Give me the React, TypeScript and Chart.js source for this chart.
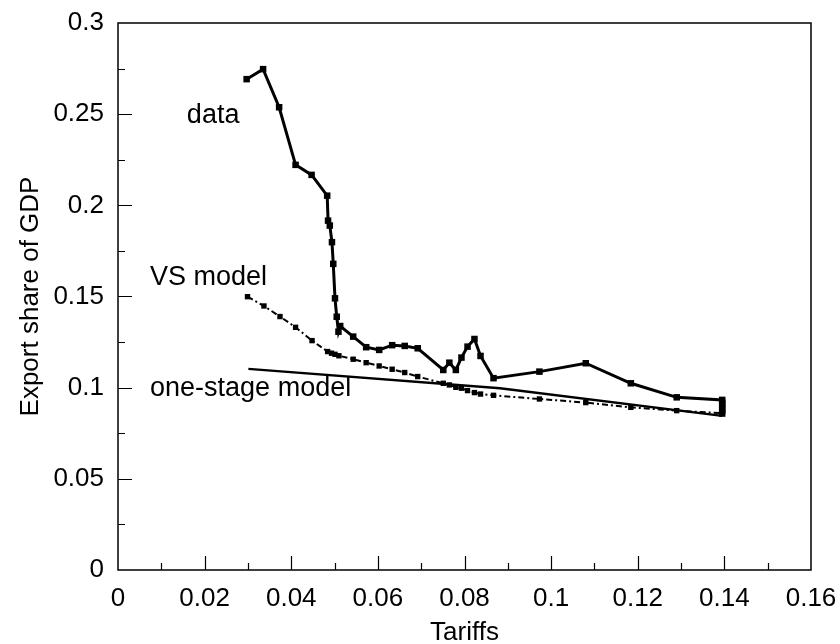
import React, { useEffect, useRef } from "react";
import { Chart, registerables } from "chart.js";

Chart.register(...registerables);

// ---- data ----
const dataX = [0.0297, 0.0335, 0.0372, 0.041, 0.0447, 0.0483, 0.0485, 0.0489, 0.0494, 0.0497, 0.0501, 0.0505, 0.0509, 0.0513, 0.0543, 0.0573, 0.0603, 0.0633, 0.0662, 0.0692, 0.0751, 0.0765, 0.078, 0.0793, 0.0807, 0.0823, 0.0837, 0.0867, 0.0973, 0.108, 0.1184, 0.129, 0.1395, 0.1395, 0.1395, 0.1395, 0.1395, 0.1395];
const dataY = [0.2692, 0.2747, 0.2538, 0.2222, 0.2167, 0.2053, 0.1916, 0.1889, 0.1798, 0.1679, 0.149, 0.1389, 0.1307, 0.1338, 0.128, 0.1222, 0.1207, 0.1233, 0.1229, 0.1216, 0.1097, 0.1137, 0.1097, 0.1165, 0.1225, 0.1267, 0.1174, 0.1052, 0.1088, 0.1134, 0.1024, 0.0947, 0.0933, 0.0918, 0.0903, 0.0888, 0.0873, 0.0858];

const vsX = [0.0299, 0.0337, 0.0374, 0.041, 0.0448, 0.0484, 0.0493, 0.0501, 0.051, 0.0543, 0.0573, 0.0603, 0.0633, 0.0662, 0.0692, 0.0751, 0.0765, 0.078, 0.0793, 0.0807, 0.0823, 0.0837, 0.0867, 0.0973, 0.108, 0.1184, 0.129, 0.1395];
const vsY = [0.1499, 0.1448, 0.139, 0.1331, 0.1258, 0.1198, 0.1189, 0.1183, 0.1175, 0.1156, 0.1137, 0.1119, 0.1101, 0.1083, 0.1061, 0.1024, 0.1015, 0.1002, 0.0997, 0.0984, 0.0973, 0.0965, 0.0958, 0.0938, 0.0918, 0.0892, 0.0874, 0.086];

const oneStageX = [0.0301, 0.0882, 0.1395];
const oneStageY = [0.1103, 0.0997, 0.0845];

const seriesNames = ["data", "VS model", "one-stage model"];
const labelAnchorX = [0.0159, 0.0074, 0.0074];
const labelAnchorY = [0.245, 0.1563, 0.0954];

const xTicks = [0, 0.02, 0.04, 0.06, 0.08, 0.1, 0.12, 0.14, 0.16];
const xTickLabels = ["0", "0.02", "0.04", "0.06", "0.08", "0.1", "0.12", "0.14", "0.16"];
const yTicks = [0, 0.05, 0.1, 0.15, 0.2, 0.25, 0.3];
const yTickLabels = ["0", "0.05", "0.1", "0.15", "0.2", "0.25", "0.3"];
const xMarkStep = 0.01;
const yMarkStep = 0.025;

const FONT = '"Liberation Sans", Arial, Helvetica, sans-serif';

const frameTicksPlugin = {
  id: "frameTicks",
  afterDraw(chart: any) {
    const { ctx, chartArea, scales } = chart;
    const { left, right, top, bottom } = chartArea;
    const xs = scales.x;
    const ys = scales.y;
    ctx.save();
    ctx.strokeStyle = "#000";
    ctx.lineWidth = 1.5;
    ctx.strokeRect(left, top, right - left, bottom - top);
    ctx.lineWidth = 1.2;
    ctx.beginPath();
    const nx = Math.round((xs.max - xs.min) / xMarkStep);
    for (let i = 1; i < nx; i++) {
      const px = Math.round(xs.getPixelForValue(xs.min + i * xMarkStep)) + 0.5;
      const len = i % 2 === 0 ? 14 : 7;
      ctx.moveTo(px, bottom);
      ctx.lineTo(px, bottom - len);
    }
    const ny = Math.round((ys.max - ys.min) / yMarkStep);
    for (let i = 1; i < ny; i++) {
      const py = Math.round(ys.getPixelForValue(ys.min + i * yMarkStep)) + 0.5;
      const len = i % 2 === 0 ? 14 : 7;
      ctx.moveTo(left, py);
      ctx.lineTo(left + len, py);
    }
    ctx.stroke();

    ctx.fillStyle = "#000";
    ctx.font = `27px ${FONT}`;
    ctx.textAlign = "left";
    ctx.textBaseline = "alphabetic";
    seriesNames.forEach((name, i) => {
      ctx.fillText(name, xs.getPixelForValue(labelAnchorX[i]), ys.getPixelForValue(labelAnchorY[i]));
    });
    ctx.restore();
  },
};

export default function App() {
  const canvasRef = useRef<HTMLCanvasElement | null>(null);

  useEffect(() => {
    document.body.style.margin = "0";
    const canvas = canvasRef.current;
    if (!canvas) return;
    const chart = new Chart(canvas, {
      type: "scatter",
      data: {
        datasets: [
          {
            label: seriesNames[0],
            data: dataX.map((x, i) => ({ x, y: dataY[i] })),
            showLine: true,
            borderColor: "#000",
            backgroundColor: "#000",
            borderWidth: 3,
            pointStyle: "rect",
            pointRadius: 4.6,
            pointBorderWidth: 0,
          },
          {
            label: seriesNames[1],
            data: vsX.map((x, i) => ({ x, y: vsY[i] })),
            showLine: true,
            borderColor: "#000",
            backgroundColor: "#000",
            borderWidth: 2,
            borderDash: [6, 3, 2, 3],
            pointStyle: "rect",
            pointRadius: 3.8,
            pointBorderWidth: 0,
          },
          {
            label: seriesNames[2],
            data: oneStageX.map((x, i) => ({ x, y: oneStageY[i] })),
            showLine: true,
            borderColor: "#000",
            backgroundColor: "#000",
            borderWidth: 2.4,
            pointRadius: 0,
          },
        ],
      },
      options: {
        responsive: false,
        animation: false,
        devicePixelRatio: 1,
        layout: { padding: { left: 0, right: 29, top: 23, bottom: 0 } },
        plugins: {
          legend: { display: false },
          tooltip: { enabled: false },
        },
        scales: {
          x: {
            type: "linear",
            min: 0,
            max: 0.16,
            grid: { display: false, drawTicks: false },
            border: { display: false },
            afterBuildTicks: (scale: any) => {
              scale.ticks = xTicks.map((v) => ({ value: v }));
            },
            afterFit: (scale: any) => {
              scale.height = 74;
              scale.paddingLeft = 0;
              scale.paddingRight = 0;
            },
            ticks: {
              color: "#000",
              padding: 13,
              maxRotation: 0,
              autoSkip: false,
              font: { family: FONT, size: 26 },
              callback: (v: any) => {
                const idx = xTicks.findIndex((t) => Math.abs(t - Number(v)) < 1e-9);
                return idx >= 0 ? xTickLabels[idx] : "";
              },
            },
            title: {
              display: true,
              text: "Tariffs",
              color: "#000",
              font: { family: FONT, size: 26, lineHeight: 0.8 },
              padding: { top: 0, bottom: 1 },
            },
          },
          y: {
            type: "linear",
            min: 0,
            max: 0.3,
            grid: { display: false, drawTicks: false },
            border: { display: false },
            afterBuildTicks: (scale: any) => {
              scale.ticks = yTicks.map((v) => ({ value: v }));
            },
            afterFit: (scale: any) => {
              scale.width = 118;
              scale.paddingTop = 0;
              scale.paddingBottom = 0;
            },
            ticks: {
              color: "#000",
              padding: 14,
              autoSkip: false,
              font: { family: FONT, size: 26 },
              callback: (v: any) => {
                const idx = yTicks.findIndex((t) => Math.abs(t - Number(v)) < 1e-9);
                return idx >= 0 ? yTickLabels[idx] : "";
              },
            },
            title: {
              display: true,
              text: "Export share of GDP",
              color: "#000",
              font: { family: FONT, size: 26, lineHeight: 0.8 },
              padding: { top: 20, bottom: 0 },
            },
          },
        },
      },
      plugins: [frameTicksPlugin],
    } as any);
    return () => chart.destroy();
  }, []);

  return (
    <div style={{ width: 840, height: 644, background: "#fff" }}>
      <canvas ref={canvasRef} width={840} height={644} style={{ display: "block" }} />
    </div>
  );
}
